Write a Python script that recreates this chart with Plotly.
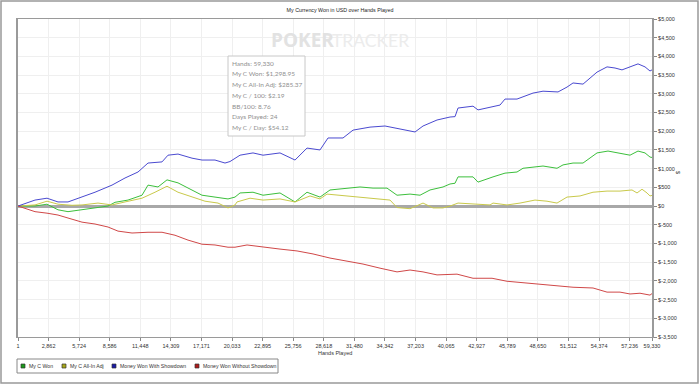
import plotly.graph_objects as go

series_names = ["My C Won", "My C All-In Adj", "Money Won With Showdown", "Money Won Without Showdown"]
legend_colors = ["#1a9a1a", "#a8a81a", "#1a1aa8", "#b01a1a"]
line_colors = ["#3cbf3c", "#c9c94a", "#4a4ad0", "#d04848"]

won_hands = [1,1592,2715,3744,4680,5990,7207,8423,9078,10295,11605,12166,13102,13944,14974,16285,17219,18436,19653,20309,20777,21993,22929,24520,25924,27046,28263,29199,30790,32006,33223,34533,35469,36686,37622,38558,39774,40430,40897,41178,42581,43049,44452,45575,46698,47259,49131,50441,51003,51939,52875,54185,55214,56337,57273,58021,58676,59143,59330]
won_vals = [0,0,50,-100,-150,-100,-50,0,100,160,290,560,510,700,620,430,290,240,190,240,350,370,290,350,110,370,240,430,480,510,480,480,290,320,290,430,510,590,610,780,780,640,780,880,910,1010,1070,1010,1100,1150,1150,1420,1470,1420,1360,1470,1420,1310,1299]

adj_hands = [1,1592,2715,3744,5054,5990,7487,8797,10014,11605,12821,13944,14974,16285,17500,18717,19653,20309,20496,21713,22929,24520,25924,27327,28263,28918,30790,32287,33878,34814,35469,36686,37903,38838,39774,40430,41178,42581,44172,44452,45762,46979,48382,49505,50441,51377,52594,53811,55121,56337,57460,57928,58395,58863,59143,59330]
adj_vals = [0,30,130,50,20,30,80,30,110,210,370,530,370,240,130,80,-50,30,110,210,160,190,110,270,190,320,270,240,190,160,-40,-70,80,-50,-50,0,80,50,30,80,30,80,160,130,80,240,270,370,400,400,430,350,450,350,270,285]

sd_hands = [1,1592,2715,3744,4680,5990,7207,8797,10014,11231,12166,13476,14038,14974,16285,17219,18436,19372,19840,20777,21993,22929,24520,25924,27046,28263,29012,30415,31351,32942,34346,35750,37154,37903,39213,40430,40897,41178,42581,43049,44452,45108,45575,46698,48195,49131,50535,51377,51939,52875,54185,55121,55869,56524,57273,58021,58676,59143,59330]
sd_vals = [0,160,210,110,110,240,370,560,750,910,1150,1180,1360,1390,1280,1230,1230,1150,1190,1360,1420,1360,1420,1230,1550,1500,1820,1820,2030,2110,2140,2060,1980,2140,2300,2380,2390,2620,2670,2570,2650,2700,2860,2860,3020,3070,3050,3180,3290,3260,3580,3720,3690,3640,3720,3800,3720,3610,3640]

nsd_hands = [1,1592,2715,3744,4680,5990,7207,8423,9359,10669,12166,13476,14693,15910,17219,18436,19653,20309,21432,22929,24520,26111,27608,29199,30790,32287,33878,35469,36686,37903,39213,40710,41084,42581,44359,45762,47634,48850,50441,51939,53811,55121,56337,57273,58208,59143,59330]
nsd_vals = [0,-150,-190,-240,-320,-430,-480,-560,-670,-720,-700,-700,-780,-910,-1020,-1040,-1100,-1100,-1040,-1100,-1150,-1200,-1280,-1390,-1470,-1550,-1660,-1760,-1710,-1760,-1840,-1840,-1820,-1930,-1930,-2010,-2060,-2090,-2140,-2170,-2190,-2300,-2300,-2350,-2330,-2380,-2340]

x_tick_vals = [1,2862,5724,8586,11448,14309,17171,20033,22895,25756,28618,31480,34342,37203,40065,42927,45789,48650,51512,54374,57236,59330]
x_tick_text = ["1","2,862","5,724","8,586","11,448","14,309","17,171","20,033","22,895","25,756","28,618","31,480","34,342","37,203","40,065","42,927","45,789","48,650","51,512","54,374","57,236","59,330"]
y_tick_vals = [5000,4500,4000,3500,3000,2500,2000,1500,1000,500,0,-500,-1000,-1500,-2000,-2500,-3000,-3500]
y_tick_text = ["$5,000","$4,500","$4,000","$3,500","$3,000","$2,500","$2,000","$1,500","$1,000","$500","$0","$-500","$-1,000","$-1,500","$-2,000","$-2,500","$-3,000","$-3,500"]

info_lines = ["Hands: 59,330","My C Won: $1,298.95","My C All-In Adj: $285.37","My C / 100: $2.19","BB/100: 8.76","Days Played: 24","My C / Day: $54.12"]

W, H = 700, 385
L, R, T, B = 18, 652, 19, 337
def px(x):
    return (x - L) / (R - L)
def py(y):
    return (B - y) / (B - T)

fig = go.Figure()
data = [(won_hands, won_vals), (adj_hands, adj_vals), (sd_hands, sd_vals), (nsd_hands, nsd_vals)]
for (hx, hy), name, col in zip(data, series_names, line_colors):
    fig.add_trace(go.Scatter(x=hx, y=hy, mode="lines", name=name,
                             line=dict(color=col, width=1), showlegend=False, hoverinfo="skip"))

fig.update_layout(
    width=W, height=H,
    margin=dict(l=L, r=W - R, t=T, b=H - B),
    paper_bgcolor="white", plot_bgcolor="white",
    font=dict(family="Liberation Sans, Arial", size=5.5, color="#333"),
    showlegend=False,
    title=dict(text="My Currency Won in USD over Hands Played", x=340 / W, xanchor="center",
               y=1 - 10 / H, yanchor="middle", font=dict(size=5.3, color="#222")),
    xaxis=dict(range=[1, 59330], tickvals=x_tick_vals, ticktext=x_tick_text,
               showgrid=True, gridcolor="#efefef", gridwidth=1,
               showline=True, linecolor="#9a9a9a", linewidth=1, mirror=True,
               ticks="outside", ticklen=3, tickcolor="#888", zeroline=False,
               tickfont=dict(size=5.5, color="#333")),
    yaxis=dict(range=[-3500, 5000], tickvals=y_tick_vals, ticktext=y_tick_text, side="right",
               showgrid=True, gridcolor="#efefef", gridwidth=1,
               showline=True, linecolor="#9a9a9a", linewidth=2, mirror=True,
               ticks="outside", ticklen=3, tickcolor="#888",
               zeroline=True, zerolinecolor="#a8a8a8", zerolinewidth=2.5,
               tickfont=dict(size=5.5, color="#333")),
)

shapes = []
ann = []
# outer frame
shapes.append(dict(type="rect", xref="paper", yref="paper", x0=px(1), x1=px(698), y0=py(383), y1=py(1),
                   line=dict(color="#999", width=1.5), layer="below"))
# watermark
ann.append(dict(xref="paper", yref="paper", x=px(269), y=py(40), xanchor="left", yanchor="middle",
                text="<b>POKER</b>", showarrow=False,
                font=dict(family="Open Sans, Arial", size=19, color="#e2e2e2")))
ann.append(dict(xref="paper", yref="paper", x=px(330), y=py(40), xanchor="left", yanchor="middle",
                text="TRACKER", showarrow=False,
                font=dict(family="Lato, Open Sans", size=17.5, color="#ececec")))
# info box
shapes.append(dict(type="rect", xref="paper", yref="paper", x0=px(228), x1=px(305), y0=py(136), y1=py(56),
                   line=dict(color="#c8c8c8", width=1), fillcolor="white", layer="above"))
for i, t in enumerate(info_lines):
    ann.append(dict(xref="paper", yref="paper", x=px(230), y=py(63.3 + i * 10.7), xanchor="left", yanchor="middle",
                    text=t, showarrow=False, font=dict(family="Lato, Open Sans", size=6.5, color="#909090")))
# axis titles
ann.append(dict(xref="paper", yref="paper", x=px(335), y=py(353), xanchor="center", yanchor="middle",
                text="Hands Played", showarrow=False, font=dict(size=5.5, color="#333")))
ann.append(dict(xref="paper", yref="paper", x=px(678), y=py(172), xanchor="center", yanchor="middle",
                text="$", textangle=90, showarrow=False, font=dict(size=5.5, color="#333")))
# legend
shapes.append(dict(type="rect", xref="paper", yref="paper", x0=px(17), x1=px(278), y0=py(373), y1=py(359),
                   line=dict(color="#888", width=1), fillcolor="white"))
sq_x = [21, 62, 112, 195]
for sx, name, col in zip(sq_x, series_names, legend_colors):
    shapes.append(dict(type="rect", xref="paper", yref="paper", x0=px(sx), x1=px(sx + 4), y0=py(368), y1=py(364),
                       line=dict(color="#333", width=0.7), fillcolor=col))
    ann.append(dict(xref="paper", yref="paper", x=px(sx + 6), y=py(366), xanchor="left", yanchor="middle",
                    text=name, showarrow=False, font=dict(size=5.2, color="#333")))

fig.update_layout(shapes=shapes, annotations=ann)
fig.write_html("out.html", config={"displayModeBar": False},
               post_script="document.body.style.margin='0';document.body.style.overflow='hidden';")
